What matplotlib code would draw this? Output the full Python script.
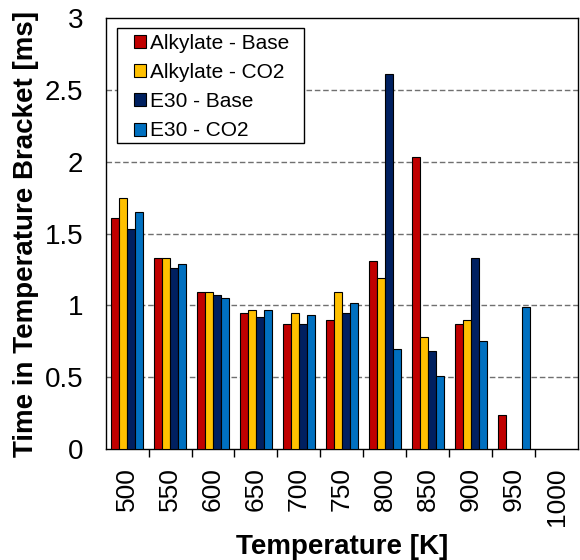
import numpy as np
import matplotlib.pyplot as plt
from matplotlib.patches import Rectangle

plt.rcParams['font.family'] = ['Liberation Sans', 'DejaVu Sans']

temps = ['500', '550', '600', '650', '700', '750', '800', '850', '900', '950', '1000']
series = ['Alkylate - Base', 'Alkylate - CO2', 'E30 - Base', 'E30 - CO2']
alk_base = [1.61, 1.33, 1.09, 0.95, 0.87, 0.90, 1.31, 2.03, 0.87, 0.235, np.nan]
alk_co2 = [1.75, 1.33, 1.09, 0.97, 0.95, 1.09, 1.19, 0.78, 0.90, np.nan, np.nan]
e30_base = [1.53, 1.26, 1.07, 0.92, 0.87, 0.95, 2.61, 0.68, 1.33, np.nan, np.nan]
e30_co2 = [1.65, 1.29, 1.05, 0.97, 0.93, 1.02, 0.70, 0.51, 0.75, 0.99, np.nan]
colors = ['#C00000', '#FFC000', '#002060', '#0070C0']

fig = plt.figure(figsize=(5.8, 5.6), dpi=100)
ax = fig.add_axes([0.182, 0.198, 0.815, 0.770])

x = np.arange(len(temps))
w = 0.185
for i, (vals, c, lab) in enumerate(zip([alk_base, alk_co2, e30_base, e30_co2], colors, series)):
    ax.bar(x + (i - 1.5) * w, vals, w, color=c, edgecolor='black', linewidth=0.8, label=lab, zorder=3)

ax.set_xlim(-0.5, len(temps) - 0.5)
ax.set_ylim(0, 3)
ax.set_yticks(np.arange(0, 3.01, 0.5))
ax.set_yticklabels(['0', '0.5', '1', '1.5', '2', '2.5', '3'], fontsize=20)
ax.tick_params(axis='y', length=0, pad=16)
for yv in np.arange(0.5, 3.0, 0.5):
    ax.axhline(yv, color='#707070', linestyle=(0, (4, 2)), linewidth=1, zorder=1)

ax.set_xticks(x)
ax.set_xticklabels(temps, rotation=90, fontsize=19)
ax.tick_params(axis='x', length=0, pad=13)
ax.set_xticks(np.arange(0.5, len(temps) - 1, 1), minor=True)
ax.tick_params(axis='x', which='minor', length=6, width=1, direction='out')

for s in ax.spines.values():
    s.set_linewidth(1)

ax.set_xlabel('Temperature [K]', fontsize=20, fontweight='bold')
ax.xaxis.set_label_coords(0.5, -0.197)
ax.set_ylabel('Time in Temperature Bracket [ms]', fontsize=20, fontweight='bold', labelpad=4)

# legend frame drawn separately (wider right padding like the original)
ax.add_patch(Rectangle((0.0235, 0.7107), 0.3962, 0.2663, transform=ax.transAxes,
                       facecolor='white', edgecolor='black', linewidth=1, zorder=4))
leg = ax.legend(loc='upper left', bbox_to_anchor=(0.060, 0.963), borderaxespad=0,
                fontsize=15, frameon=False,
                handlelength=0.58, handleheight=0.58, handletextpad=0.19,
                labelspacing=0.49, borderpad=0)
leg.set_zorder(5)

fig.savefig('out.png', dpi=100)
